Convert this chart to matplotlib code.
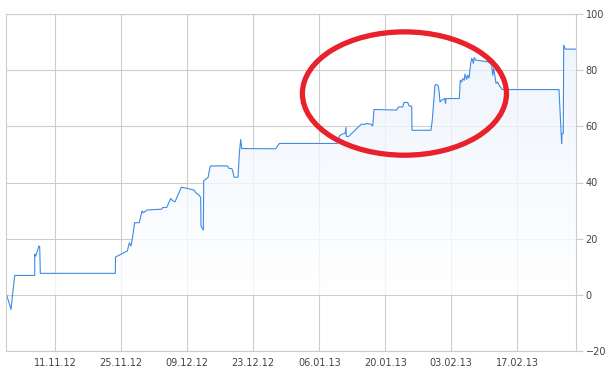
import numpy as np
import pandas as pd
import matplotlib
matplotlib.use("Agg")
import matplotlib.pyplot as plt
import matplotlib.dates as mdates
from matplotlib.colors import LinearSegmentedColormap
from matplotlib.patches import Ellipse

# 1) Datos (dias desde el 31.10.12 y valor)
inicio = pd.Timestamp("2012-10-31")
dias = [0.54, 1.60, 1.96, 2.39, 6.63, 6.63, 6.84, 7.54, 7.69, 7.82,
        23.73, 23.77, 26.27, 26.70, 27.06, 27.33, 27.84, 28.82, 29.39, 29.67,
        30.45, 33.57, 33.78, 34.63, 35.48, 35.90, 36.39, 37.73, 39.00, 40.42,
        40.85, 41.48, 41.84, 41.91, 42.40, 42.48, 42.82, 43.39, 43.82, 44.03,
        47.49, 47.85, 48.42, 48.63, 48.91, 49.76, 50.04, 50.33, 50.54, 57.75,
        58.52, 70.82, 71.25, 71.76, 72.47, 72.67, 72.73, 73.16, 75.50, 76.00,
        76.70, 77.06, 77.91, 78.33, 78.61, 83.42, 83.76, 84.70, 84.97, 85.76,
        86.09, 86.60, 86.67, 90.70, 90.97, 91.55, 91.91, 92.25, 92.46, 92.61,
        92.97, 93.60, 93.77, 93.88, 96.70, 96.91, 97.21, 97.42, 97.76, 97.91,
        98.27, 98.48, 98.76, 99.12, 99.33, 99.54, 99.67, 99.88, 100.18, 102.73,
        103.28, 103.58, 103.79, 104.00, 104.28, 104.49, 104.85, 105.12, 105.82, 117.85,
        118.42, 118.49, 118.76, 118.85, 119.19, 121.46]
valores = [0.75, -5.2, 0.5, 6.9, 6.9, 14.5, 13.8, 17.4, 17.1, 7.65,
           7.65, 13.45, 15.6, 18.5, 17.4, 20.0, 25.7, 25.7, 29.9, 29.2,
           30.2, 30.5, 31.1, 31.1, 34.3, 33.5, 33.1, 38.3, 37.9, 37.3,
           36.3, 35.5, 34.7, 24.5, 23.1, 40.6, 41.1, 41.7, 45.6, 45.9,
           45.9, 45.0, 45.0, 44.2, 41.9, 41.9, 50.4, 55.3, 52.1, 52.0,
           53.9, 53.9, 56.5, 57.2, 57.5, 59.6, 56.5, 56.3, 60.1, 60.8,
           60.7, 61.0, 60.8, 60.1, 66.0, 65.8, 66.9, 66.9, 68.5, 68.5,
           67.2, 67.2, 58.6, 58.6, 62.2, 74.7, 74.9, 74.3, 71.7, 68.7,
           69.3, 69.9, 68.1, 69.9, 69.9, 76.4, 75.8, 77.0, 76.4, 78.6,
           76.7, 78.2, 77.2, 82.4, 84.2, 83.6, 82.4, 84.5, 83.6, 83.0,
           82.4, 81.8, 78.2, 80.6, 77.6, 75.3, 75.8, 74.7, 73.1, 73.1,
           53.9, 57.5, 57.5, 88.9, 87.5, 87.5]
ticks_x = ["2012-11-11", "2012-11-25", "2012-12-09", "2012-12-23",
           "2013-01-06", "2013-01-20", "2013-02-03", "2013-02-17"]
ticks_y = [-20, 0, 20, 40, 60, 80, 100]

fechas = inicio + pd.to_timedelta(dias, unit="D")
x = mdates.date2num(fechas.to_pydatetime())

# 2) Figura
fig = plt.figure(figsize=(6.13, 3.74), dpi=100)
ax = fig.add_axes([6 / 613, 23 / 374, 570 / 613, 337 / 374])
ax.set_axisbelow(True)

gris = "#cccccc"
ax.grid(True, color=gris, linewidth=0.8)
for lado in ["left", "right", "bottom", "top"]:
    ax.spines[lado].set_color(gris)
    ax.spines[lado].set_linewidth(0.8)

# 3) Relleno con degradado bajo la linea
poly = ax.fill_between(x, valores, 0, color="none", linewidth=0)
cmap = LinearSegmentedColormap.from_list("azul", ["#ffffff", "#e9f2fd"])
grad = np.linspace(1, 0, 256).reshape(-1, 1)
img = ax.imshow(grad, cmap=cmap, extent=[x[0], x[-1], 0, 100], aspect="auto",
                origin="upper", alpha=0.8, zorder=1)
img.set_clip_path(poly.get_paths()[0], transform=ax.transData)

ax.plot(x, valores, color="#3f8ae2", linewidth=0.8, zorder=2)

# 4) Ejes
ax.set_xlim(x[0], x[-1])
ax.set_ylim(-20, 100)
ax.set_xticks(mdates.date2num(pd.to_datetime(ticks_x).to_pydatetime()))
ax.xaxis.set_major_formatter(mdates.DateFormatter("%d.%m.%y"))
ax.set_yticks(ticks_y)
ax.yaxis.tick_right()
ax.tick_params(axis="x", length=0, pad=5, labelsize=7, labelcolor="#444444")
ax.tick_params(axis="y", length=5, width=0.8, color=gris, pad=2,
               labelsize=7, labelcolor="#444444")

# 5) Elipse roja
elipse = Ellipse((0.699, 0.764), 0.358, 0.366, transform=ax.transAxes,
                 fill=False, edgecolor="#e8212b", linewidth=3.8,
                 zorder=5, clip_on=False)
ax.add_patch(elipse)

fig.savefig("out.png", dpi=100)
